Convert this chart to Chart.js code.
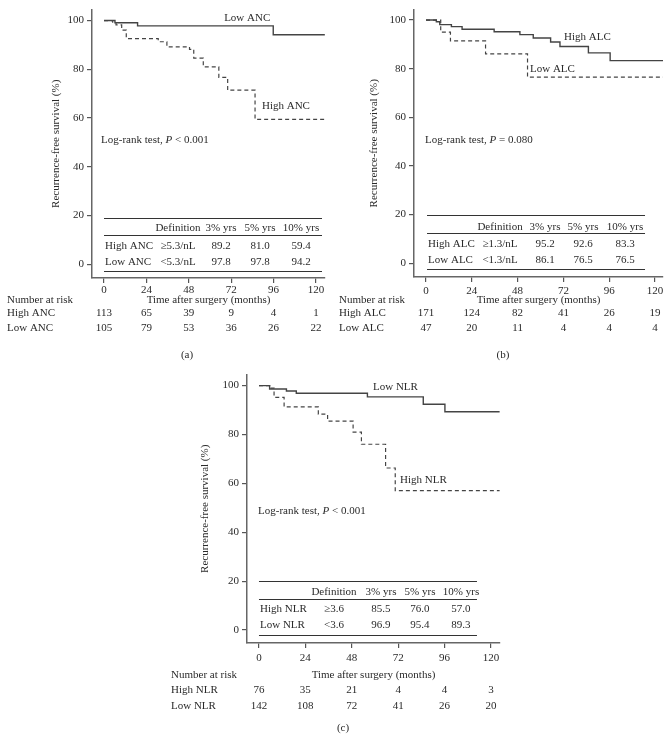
<!DOCTYPE html>
<html>
<head>
<meta charset="utf-8">
<script src="https://cdn.jsdelivr.net/npm/chart.js@4.4.0/dist/chart.umd.min.js"></script>
<style>
  body { margin: 0; background: #fff; width: 672px; height: 739px; position: relative; overflow: hidden; }
  canvas { position: absolute; }
</style>
</head>
<body>
<canvas id="chartA" width="336" height="370" style="left:0;top:0"></canvas>
<canvas id="chartB" width="336" height="370" style="left:336px;top:0"></canvas>
<canvas id="chartC" width="352" height="374" style="left:160px;top:365px"></canvas>
<script>
const monthTicks = [0, 24, 48, 72, 96, 120];
const survivalTicks = [0, 20, 40, 60, 80, 100];
const tableHeader = ["Definition", "3% yrs", "5% yrs", "10% yrs"];

// (a) ANC
const ancLowMonths = [0, 6.2, 19, 95.8, 125];
const ancLowSurvival = [100, 99.1, 97.8, 94.2, 94.2];
const ancHighMonths = [0, 4.9, 6.8, 10, 12.6, 30.7, 35.6, 48.4, 50.8, 56.2, 65, 70, 85.5, 125];
const ancHighSurvival = [100, 99.3, 98.2, 96.1, 92.6, 91.3, 89.2, 88.2, 84.6, 81.0, 76.7, 71.4, 59.4, 59.4];
const ancTable = [
  ["High ANC", "\u22655.3/nL", "89.2", "81.0", "59.4"],
  ["Low ANC", "<5.3/nL", "97.8", "97.8", "94.2"]
];
const ancRiskHigh = [113, 65, 39, 9, 4, 1];
const ancRiskLow = [105, 79, 53, 36, 26, 22];

// (b) ALC
const alcHighMonths = [0, 5.4, 7.2, 13.3, 18.9, 35.7, 49.2, 56.2, 65.3, 70.2, 85.1, 96.5, 124.2];
const alcHighSurvival = [100, 99.3, 98.1, 97.3, 96.2, 95.2, 94.0, 92.6, 91.0, 89.1, 86.5, 83.3, 83.3];
const alcLowMonths = [0, 7.7, 12.8, 31.2, 53.2, 124.2];
const alcLowSurvival = [100, 95.0, 91.4, 86.1, 76.5, 76.5];
const alcTable = [
  ["High ALC", "\u22651.3/nL", "95.2", "92.6", "83.3"],
  ["Low ALC", "<1.3/nL", "86.1", "76.5", "76.5"]
];
const alcRiskHigh = [171, 124, 82, 41, 26, 19];
const alcRiskLow = [47, 20, 11, 4, 4, 4];

// (c) NLR
const nlrLowMonths = [0, 5.5, 14.2, 19.3, 56.1, 85, 96.2, 124.5];
const nlrLowSurvival = [100, 98.6, 97.8, 96.9, 95.4, 92.4, 89.3, 89.3];
const nlrHighMonths = [0, 5.5, 7.8, 13, 30.7, 35.5, 48.7, 53, 65.5, 70.5, 124.5];
const nlrHighSurvival = [100, 99.0, 95.2, 91.3, 88.3, 85.5, 81.0, 76.0, 66.3, 57.0, 57.0];
const nlrTable = [
  ["High NLR", "\u22653.6", "85.5", "76.0", "57.0"],
  ["Low NLR", "<3.6", "96.9", "95.4", "89.3"]
];
const nlrRiskHigh = [76, 35, 21, 4, 4, 3];
const nlrRiskLow = [142, 108, 72, 41, 26, 20];

const serif = "'Liberation Serif', 'DejaVu Serif', serif";
const textColor = "#2a2a2a";
const fontSize = 11;

function toPoints(xs, ys) {
  return xs.map((x, i) => ({ x: x, y: ys[i] }));
}

function drawLogRank(ctx, pText, x, y) {
  const parts = [["Log-rank test, ", ""], ["P", "italic "], [" " + pText, ""]];
  parts.forEach(p => {
    ctx.font = p[1] + fontSize + "px " + serif;
    ctx.fillText(p[0], x, y);
    x += ctx.measureText(p[0]).width;
  });
  ctx.font = fontSize + "px " + serif;
}

const kmExtras = {
  id: "kmExtras",
  afterDraw(chart, args, o) {
    const ctx = chart.ctx;
    const xs = chart.scales.x;
    const ys = chart.scales.y;
    const area = chart.chartArea;
    const x0 = xs.getPixelForValue(0);
    const y0 = ys.getPixelForValue(0);

    ctx.save();
    ctx.fillStyle = textColor;
    ctx.strokeStyle = "#333";
    ctx.font = fontSize + "px " + serif;
    ctx.textBaseline = "middle";

    // y title
    ctx.save();
    ctx.translate(area.left - o.titleOffset, (area.top + area.bottom) / 2);
    ctx.rotate(-Math.PI / 2);
    ctx.textAlign = "center";
    ctx.fillText("Recurrence-free survival (%)", 0, 0);
    ctx.restore();

    // curve labels
    ctx.textAlign = "left";
    o.labels.forEach(l => ctx.fillText(l.text, xs.getPixelForValue(l.x), ys.getPixelForValue(l.y)));
    drawLogRank(ctx, o.pText, xs.getPixelForValue(o.logRank[0]), ys.getPixelForValue(o.logRank[1]));

    // summary table
    const t = o.table;
    ctx.lineWidth = 1;
    t.lines.forEach(dy => {
      ctx.beginPath();
      ctx.moveTo(x0 + t.left, Math.round(y0 + dy) + 0.5);
      ctx.lineTo(x0 + t.right, Math.round(y0 + dy) + 0.5);
      ctx.stroke();
    });
    ctx.textAlign = "center";
    tableHeader.forEach((h, i) => ctx.fillText(h, x0 + t.cols[i], y0 + t.rows[0]));
    o.rows.forEach((row, r) => {
      ctx.textAlign = "left";
      ctx.fillText(row[0], x0 + t.left + 1, y0 + t.rows[r + 1]);
      ctx.textAlign = "center";
      row.slice(1).forEach((v, i) => ctx.fillText(v, x0 + t.cols[i], y0 + t.rows[r + 1]));
    });

    // number at risk
    const rk = o.risk;
    ctx.textAlign = "left";
    ctx.fillText("Number at risk", rk.left, rk.rows[0]);
    ctx.fillText(o.riskNames[0], rk.left, rk.rows[1]);
    ctx.fillText(o.riskNames[1], rk.left, rk.rows[2]);
    ctx.textAlign = "center";
    ctx.fillText("Time after surgery (months)", (area.left + area.right) / 2, rk.rows[0]);
    o.riskValues.forEach((vals, r) => {
      vals.forEach((v, i) => ctx.fillText(String(v), xs.getPixelForValue(monthTicks[i]), rk.rows[r + 1]));
    });
    ctx.fillText(o.panel, rk.panelX, rk.panelY);
    ctx.restore();
  }
};

function makeChart(id, cfg) {
  const axisCommon = {
    type: "linear",
    grid: { display: true, drawOnChartArea: false, drawTicks: true, tickLength: 5, color: "#555", lineWidth: 1.2 },
    border: { display: true, color: "#666", width: 1.5 },
    ticks: { color: textColor, font: { family: serif, size: fontSize } }
  };
  return new Chart(document.getElementById(id), {
    type: "line",
    data: {
      datasets: [
        {
          data: toPoints(cfg.solid[0], cfg.solid[1]),
          borderColor: "#444", borderWidth: 1.4, stepped: "before", pointRadius: 0, fill: false
        },
        {
          data: toPoints(cfg.dashed[0], cfg.dashed[1]),
          borderColor: "#444", borderWidth: 1.2, borderDash: [4, 3], stepped: "before", pointRadius: 0, fill: false
        }
      ]
    },
    options: {
      responsive: false,
      animation: false,
      devicePixelRatio: 1,
      layout: { padding: cfg.padding },
      plugins: {
        legend: { display: false },
        tooltip: { enabled: false },
        kmExtras: cfg.extras
      },
      scales: {
        x: Object.assign({}, axisCommon, {
          min: cfg.xRange[0], max: cfg.xRange[1],
          ticks: Object.assign({}, axisCommon.ticks, { padding: cfg.xTickPad, maxRotation: 0 }),
          afterBuildTicks: s => { s.ticks = monthTicks.map(v => ({ value: v })); },
          afterFit: s => { s.height = cfg.xHeight; }
        }),
        y: Object.assign({}, axisCommon, {
          min: cfg.yRange[0], max: cfg.yRange[1],
          ticks: Object.assign({}, axisCommon.ticks, { padding: 3 }),
          afterBuildTicks: s => { s.ticks = survivalTicks.map(v => ({ value: v })); },
          afterFit: s => { s.width = cfg.yWidth; }
        })
      }
    },
    plugins: [kmExtras]
  });
}

makeChart("chartA", {
  solid: [ancLowMonths, ancLowSurvival],
  dashed: [ancHighMonths, ancHighSurvival],
  xRange: [-6.8, 125.1], yRange: [-5.7, 104.5],
  yWidth: 92, xHeight: 20, xTickPad: 1,
  padding: { left: 0, top: 8, right: 11, bottom: 72 },
  extras: {
    titleOffset: 36,
    labels: [{ text: "Low ANC", x: 68, y: 101.2 }, { text: "High ANC", x: 89.4, y: 64.9 }],
    pText: "< 0.001", logRank: [-1.7, 51],
    rows: ancTable,
    table: { left: 0, right: 218, cols: [74, 117, 156, 197], lines: [-46, -29, 7], rows: [-36, -18, -2] },
    riskNames: ["High ANC", "Low ANC"],
    riskValues: [ancRiskHigh, ancRiskLow],
    risk: { left: 7, rows: [300, 313, 328], panelX: 187, panelY: 355 },
    panel: "(a)"
  }
});

makeChart("chartB", {
  solid: [alcHighMonths, alcHighSurvival],
  dashed: [alcLowMonths, alcLowSurvival],
  xRange: [-6.3, 124.2], yRange: [-5.7, 104.3],
  yWidth: 78, xHeight: 20, xTickPad: 3,
  padding: { left: 0, top: 8, right: 9, bottom: 73 },
  extras: {
    titleOffset: 40,
    labels: [{ text: "High ALC", x: 72.3, y: 93.1 }, { text: "Low ALC", x: 54.5, y: 80 }],
    pText: "= 0.080", logRank: [-0.5, 50.6],
    rows: alcTable,
    table: { left: 1, right: 219, cols: [74, 119, 157, 199], lines: [-48, -30, 6], rows: [-36, -19, -3] },
    riskNames: ["High ALC", "Low ALC"],
    riskValues: [alcRiskHigh, alcRiskLow],
    risk: { left: 3, rows: [300, 313, 328], panelX: 167, panelY: 355 },
    panel: "(b)"
  }
});

makeChart("chartC", {
  solid: [nlrLowMonths, nlrLowSurvival],
  dashed: [nlrHighMonths, nlrHighSurvival],
  xRange: [-6.2, 124.7], yRange: [-5.3, 104.5],
  yWidth: 87, xHeight: 22, xTickPad: 4,
  padding: { left: 0, top: 8, right: 12, bottom: 74 },
  extras: {
    titleOffset: 42,
    labels: [{ text: "Low NLR", x: 59, y: 99.2 }, { text: "High NLR", x: 73, y: 61.4 }],
    pText: "< 0.001", logRank: [-0.5, 48.8],
    rows: nlrTable,
    table: { left: 0, right: 218, cols: [75, 122, 161, 202], lines: [-49, -31, 5], rows: [-38, -21, -5] },
    riskNames: ["High NLR", "Low NLR"],
    riskValues: [nlrRiskHigh, nlrRiskLow],
    risk: { left: 11, rows: [310, 325, 341], panelX: 183, panelY: 363 },
    panel: "(c)"
  }
});
</script>
</body>
</html>
